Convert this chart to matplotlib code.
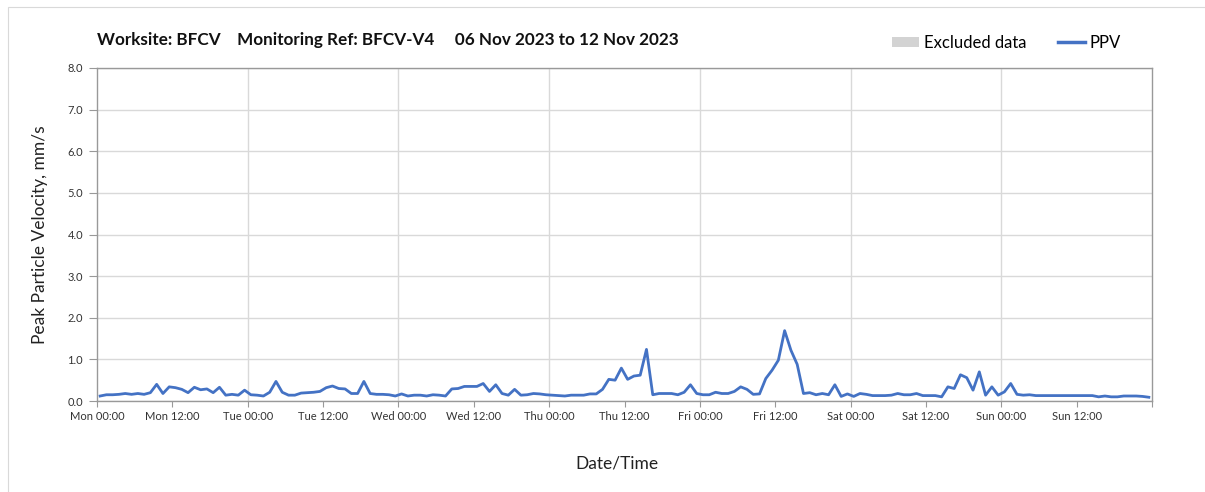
import matplotlib
matplotlib.use("Agg")
import matplotlib.pyplot as plt
from matplotlib.patches import Patch, Rectangle
import numpy as np

# hourly PPV readings (mm/s), Mon 06 Nov 2023 to Sun 12 Nov 2023
ppv_mon = [0.12, 0.15, 0.15, 0.16, 0.18, 0.16, 0.18, 0.16, 0.20, 0.40, 0.18, 0.34,
           0.32, 0.28, 0.20, 0.33, 0.27, 0.29, 0.20, 0.33, 0.14, 0.16, 0.14, 0.26]
ppv_tue = [0.15, 0.14, 0.12, 0.21, 0.47, 0.21, 0.14, 0.14, 0.19, 0.20, 0.21, 0.23,
           0.32, 0.36, 0.30, 0.29, 0.18, 0.18, 0.47, 0.18, 0.16, 0.16, 0.15, 0.12]
ppv_wed = [0.17, 0.12, 0.14, 0.14, 0.12, 0.15, 0.14, 0.12, 0.29, 0.30, 0.35, 0.35,
           0.35, 0.42, 0.23, 0.39, 0.18, 0.14, 0.28, 0.14, 0.15, 0.18, 0.17, 0.15]
ppv_thu = [0.14, 0.13, 0.12, 0.14, 0.14, 0.14, 0.17, 0.17, 0.28, 0.52, 0.50, 0.79,
           0.52, 0.60, 0.62, 1.24, 0.15, 0.18, 0.18, 0.18, 0.15, 0.21, 0.39, 0.18]
ppv_fri = [0.15, 0.15, 0.21, 0.18, 0.18, 0.23, 0.34, 0.28, 0.16, 0.17, 0.54, 0.74,
           0.98, 1.69, 1.22, 0.88, 0.18, 0.20, 0.15, 0.18, 0.15, 0.39, 0.11, 0.17]
ppv_sat = [0.11, 0.18, 0.16, 0.13, 0.13, 0.13, 0.14, 0.18, 0.15, 0.15, 0.18, 0.13,
           0.13, 0.13, 0.10, 0.34, 0.30, 0.63, 0.56, 0.26, 0.70, 0.14, 0.34, 0.14]
ppv_sun = [0.22, 0.42, 0.16, 0.14, 0.15, 0.13, 0.13, 0.13, 0.13, 0.13, 0.13, 0.13,
           0.13, 0.13, 0.13, 0.10, 0.12, 0.10, 0.10, 0.12, 0.12, 0.12, 0.11, 0.09]

days = ["Mon", "Tue", "Wed", "Thu", "Fri", "Sat", "Sun"]
tick_labels = [f"{d} {t}" for d in days for t in ("00:00", "12:00")]

ppv = ppv_mon + ppv_tue + ppv_wed + ppv_thu + ppv_fri + ppv_sat + ppv_sun
hours = np.arange(len(ppv)) + 0.5  # hours since Mon 00:00

plt.rcParams['font.family'] = ['Lato', 'DejaVu Sans']

fig = plt.figure(figsize=(12.05, 4.92), dpi=100)
ax = fig.add_axes([97 / 1205, 1 - 401 / 492, (1152 - 97) / 1205, (401 - 68) / 492])

# faint frame round the picture (top and left edges only show)
fig.patches.append(Rectangle((8 / 1205, -0.1), 1.2, 1 - 7 / 492 + 0.1, transform=fig.transFigure,
                             fill=False, edgecolor="#d9d9d9", linewidth=0.8))

ax.plot(hours, ppv, color="#4472c4", linewidth=2.0, zorder=3)

ax.set_xlim(0, 168)
ax.set_ylim(0, 8)
ax.set_xticks(np.arange(0, 169, 12))
ax.set_xticklabels(tick_labels + [""], fontsize=8, color="#333333")
ax.set_yticks(np.arange(0, 8.1, 1))
ax.set_yticklabels([f"{v:.1f}" for v in np.arange(0, 8.1, 1)], fontsize=8, color="#333333")
ax.tick_params(axis="x", length=4, color="#999999", pad=3)
ax.tick_params(axis="y", length=6, color="#999999", pad=4)

ax.grid(axis="y", color="#d9d9d9", linewidth=1)
for d in range(1, 7):
    ax.axvline(d * 24, color="#d9d9d9", linewidth=1, zorder=0)

for side in ["top", "right", "left", "bottom"]:
    ax.spines[side].set_color("#999999")
    ax.spines[side].set_linewidth(1)

ax.set_ylabel("Peak Particle Velocity, mm/s", fontsize=12.5, color="#222222", labelpad=14)
ax.set_xlabel("Date/Time", fontsize=12.5, color="#222222", labelpad=20)
ax.xaxis.set_label_coords(0.493, -0.165)

fig.text(97 / 1205, 1 - 40 / 492,
         "Worksite: BFCV    Monitoring Ref: BFCV-V4     06 Nov 2023 to 12 Nov 2023",
         fontsize=12.3, fontweight="bold", va="center", ha="left", color="#111111")

handles = [Patch(facecolor="#d3d3d3", edgecolor="none"),
           plt.Line2D([], [], color="#4472c4", linewidth=2.5)]
fig.legend(handles, ["Excluded data", "PPV"], ncol=2, frameon=False, fontsize=12,
           loc="center left", bbox_to_anchor=(877 / 1205, 1 - 43 / 492),
           handlelength=1.6, handleheight=0.6, handletextpad=0.3, columnspacing=1.9)

fig.savefig("out.png", dpi=100, facecolor="white")
